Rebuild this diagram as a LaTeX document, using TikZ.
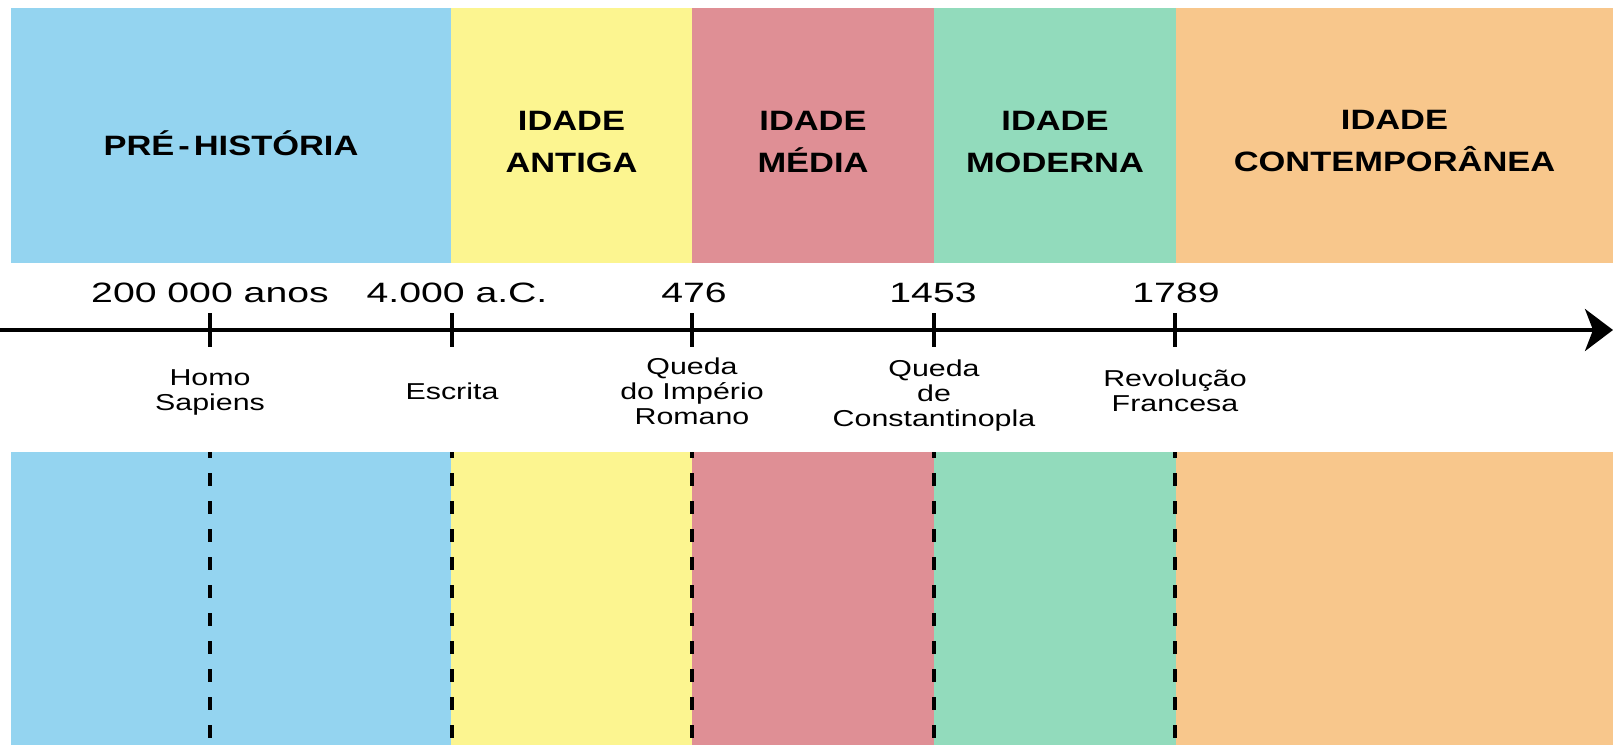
\documentclass[tikz,border=0pt]{standalone}
\usepackage{fontspec}
\usetikzlibrary{arrows.meta}
\setmainfont{Liberation Sans}
\newfontfamily\titlefont[FakeStretch=1.23]{Liberation Sans}
\newfontfamily\yearfont[FakeStretch=1.4]{Liberation Sans}
\newfontfamily\eventfont[FakeStretch=1.32]{Liberation Sans}
\definecolor{preblue}{HTML}{94D4F0}
\definecolor{antyellow}{HTML}{FCF590}
\definecolor{medred}{HTML}{DF8F95}
\definecolor{modgreen}{HTML}{92DBBC}
\definecolor{conorange}{HTML}{F8C78C}
\begin{document}
\begin{tikzpicture}[x=1pt, y=-1pt,
    era/.style={font=\titlefont\bfseries\fontsize{28}{42}\selectfont, align=center, anchor=base},
    year/.style={font=\yearfont\fontsize{28}{34}\selectfont, anchor=base},
    event/.style={font=\eventfont\fontsize{23}{25}\selectfont, align=center, anchor=base},
    tick/.style={line width=4pt},
    guide/.style={line width=4pt, dash pattern=on 13pt off 15pt, dash phase=7pt}]
    \useasboundingbox (0,0) rectangle (1613,745);
    \fill[white] (0,0) rectangle (1613,745);

    \foreach \left/\right/\colour in {11/451/preblue, 451/692/antyellow, 692/934/medred, 934/1176/modgreen, 1176/1613/conorange}
        \fill[\colour] (\left,8) rectangle (\right,745);
    \fill[white] (0,263) rectangle (1613,452);

    \node[era] (pre) at (231,155) {PRÉ\kern4pt-\kern4pt HISTÓRIA};
    \node[era] (antiga) at (571.5,172) {IDADE\\ANTIGA};
    \node[era] (media) at (813,172) {IDADE\\MÉDIA};
    \node[era] (moderna) at (1055,172) {IDADE\\MODERNA};
    \node[era] (contemp) at (1394.5,171) {IDADE\\CONTEMPORÂNEA};

    \coordinate (start) at (0,330);
    \coordinate (end) at (1613,330);
    \draw[line width=4pt, -{Stealth[length=28pt, width=42pt, inset=8pt]}] (start) -- (end);

    \foreach \n/\x in {1/210, 2/452, 3/692, 4/934, 5/1175} {
        \coordinate (t\n) at (\x,330);
        \coordinate (g\n) at (\x,452);
        \coordinate (h\n) at (\x,745);
        \draw[tick] ([yshift=17pt]t\n) -- ([yshift=-17pt]t\n);
        \draw[guide] (g\n) -- (h\n);
    }

    \node[year] (y1) at (210,302) {200 000 anos};
    \node[year] (y2) at (457,302) {4.000 a.C.};
    \node[year] (y3) at (694,302) {476};
    \node[year] (y4) at (933,302) {1453};
    \node[year] (y5) at (1176,302) {1789};

    \node[event] (e1) at (210,410) {Homo\\Sapiens};
    \node[event] (e2) at (452,399) {Escrita};
    \node[event] (e3) at (692,424) {Queda\\do Império\\Romano};
    \node[event] (e4) at (934,426) {Queda\\de\\Constantinopla};
    \node[event] (e5) at (1175,411) {Revolução\\Francesa};
\end{tikzpicture}
\end{document}
